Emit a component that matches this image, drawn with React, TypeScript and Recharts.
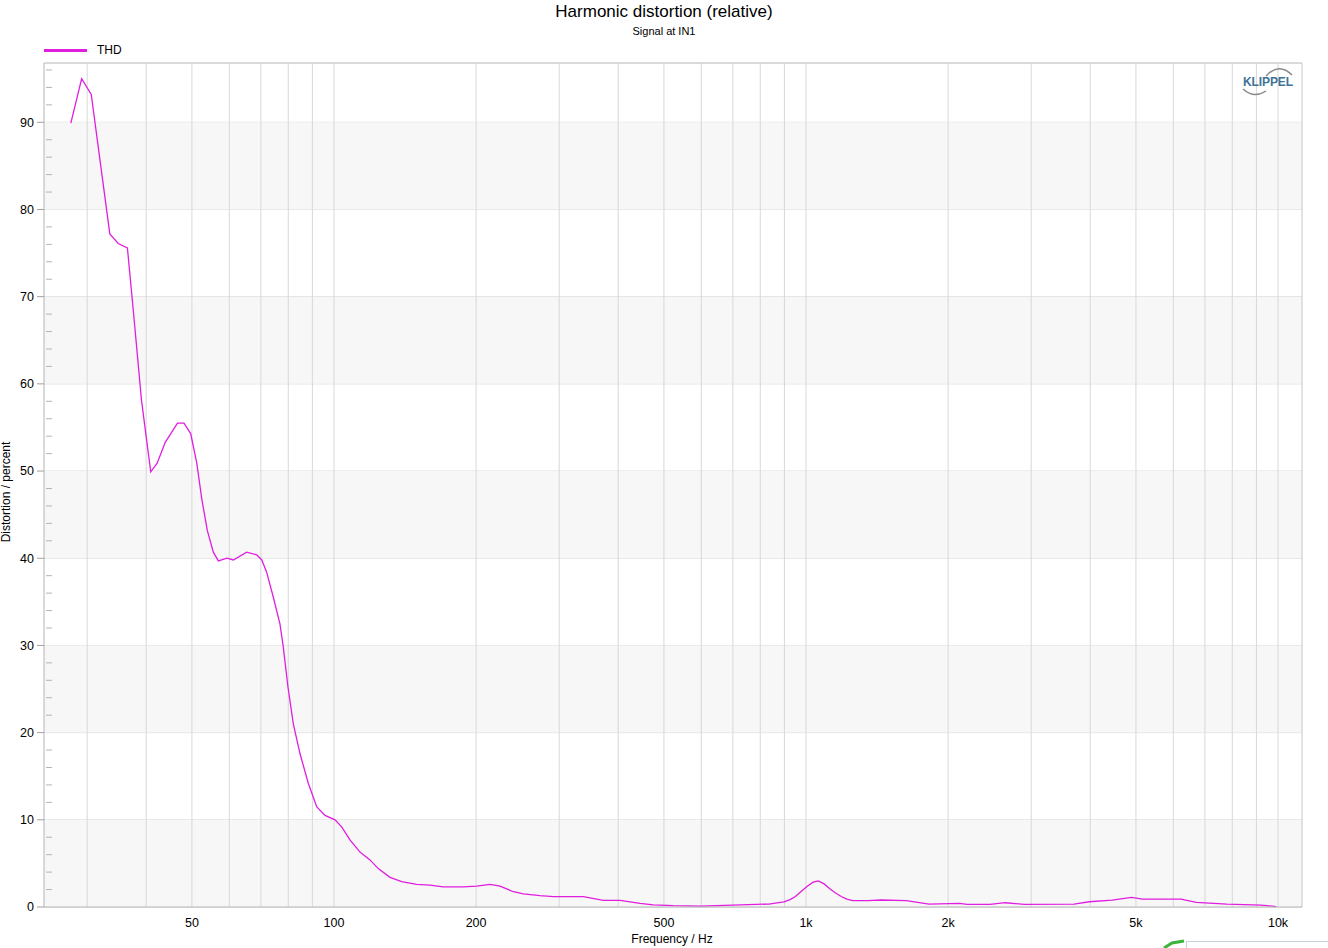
import React from "react";
import {
  LineChart,
  Line,
  XAxis,
  YAxis,
  CartesianGrid,
  ReferenceLine,
  ReferenceArea,
} from "recharts";

// ---- data ----
const freqHz = [
  27.7, 29.2, 30.6, 33.5, 34.9, 36.5, 37.7, 39.1, 40.9, 42.2,
  43.9, 46.6, 48.1, 49.7, 51.2, 52.5, 53.9, 55.5, 56.9, 59.3,
  61.2, 65.3, 68.6, 70.3, 72.0, 74.4, 76.8, 78.0, 79.9, 82.0,
  84.7, 88.2, 91.9, 95.7, 100.5, 103.8, 108.1, 113.5, 119.2, 124.1,
  131.4, 139.1, 149.7, 159.7, 170.4, 187.9, 200.6, 214.1, 224.8, 239.9,
  251.8, 273.2, 291.5, 337.5, 372.1, 403.6, 444.9, 474.9, 523.5, 596.3,
  698.2, 833.7, 898.3, 925, 949.5, 975, 1004.6, 1035, 1062, 1092, 1123, 1155,
  1187.6, 1220, 1256, 1352.6,
  1443.4, 1629.6, 1822.5, 2114, 2195, 2454, 2643, 2901, 3697, 3984,
  4454, 4890, 5168, 5569, 6228, 6709, 7787, 9204, 9918,
];

const thdPercent = [
  89.9, 95.0, 93.2, 77.2, 76.1, 75.6, 67.5, 58.1, 49.9, 50.9,
  53.3, 55.5, 55.5, 54.3, 50.9, 46.7, 43.2, 40.7, 39.7, 40.0,
  39.8, 40.7, 40.4, 39.8, 38.4, 35.5, 32.5, 30.0, 25.2, 21.0,
  17.6, 14.2, 11.5, 10.5, 10.0, 9.2, 7.7, 6.3, 5.4, 4.4,
  3.4, 2.9, 2.6, 2.5, 2.3, 2.3, 2.4, 2.6, 2.4, 1.75,
  1.5, 1.3, 1.2, 1.2, 0.75, 0.75, 0.42, 0.25, 0.15, 0.1,
  0.22, 0.34, 0.6, 0.85, 1.2, 1.75, 2.35, 2.85, 3.0, 2.65, 2.1, 1.6,
  1.2, 0.9, 0.72, 0.72,
  0.8, 0.72, 0.34, 0.42, 0.3, 0.3, 0.49, 0.3, 0.34, 0.6,
  0.8, 1.1, 0.9, 0.9, 0.9, 0.53, 0.34, 0.22, 0.05,
];

const xTicks = [50, 100, 200, 500, 1000, 2000, 5000, 10000];
const xGridFreqs = [
  30, 40, 50, 60, 70, 80, 90,
  100, 200, 300, 400, 500, 600, 700, 800, 900,
  1000, 2000, 3000, 4000, 5000, 6000, 7000, 8000, 9000, 10000,
];
const yTicks = [0, 10, 20, 30, 40, 50, 60, 70, 80, 90];
const yMinorTicks = [
  2, 4, 6, 8, 12, 14, 16, 18, 22, 24, 26, 28, 32, 34, 36, 38, 42, 44, 46, 48,
  52, 54, 56, 58, 62, 64, 66, 68, 72, 74, 76, 78, 82, 84, 86, 88, 92, 94, 96,
];
const shadedBands = [
  [0, 10],
  [20, 30],
  [40, 50],
  [60, 70],
  [80, 90],
];
const xDomain = [24.3, 11240];
const yDomain = [0, 96.8];

const chartData = freqHz.map((f, i) => ({ f, thd: thdPercent[i] }));

const FONT = '"Liberation Sans", Arial, "Helvetica", sans-serif';
const LINE_COLOR = "#e01ee0";

const fmtHz = (v: number) => (v >= 1000 ? `${v / 1000}k` : `${v}`);

const MinorTick = (props: any) => {
  const { x, y } = props;
  return (
    <line x1={x} y1={y} x2={x + 6} y2={y} stroke="#b4b4b4" strokeWidth={1} />
  );
};

export default function App() {
  return (
    <div
      style={{
        position: "absolute",
        left: 0,
        top: 0,
        width: 1328,
        height: 948,
        background: "#ffffff",
        fontFamily: FONT,
        overflow: "hidden",
      }}
    >
      {/* titles */}
      <div
        style={{
          position: "absolute",
          left: 0,
          width: 1328,
          top: 2,
          textAlign: "center",
          fontSize: 17,
          color: "#000",
          lineHeight: "20px",
        }}
      >
        Harmonic distortion (relative)
      </div>
      <div
        style={{
          position: "absolute",
          left: 0,
          width: 1328,
          top: 24,
          textAlign: "center",
          fontSize: 11,
          color: "#000",
          lineHeight: "14px",
        }}
      >
        Signal at IN1
      </div>

      {/* legend */}
      <div
        style={{
          position: "absolute",
          left: 44,
          top: 49,
          width: 43,
          height: 3,
          background: LINE_COLOR,
        }}
      />
      <div
        style={{
          position: "absolute",
          left: 97,
          top: 43,
          fontSize: 12,
          lineHeight: "14px",
          color: "#000",
        }}
      >
        THD
      </div>

      <LineChart
        width={1328}
        height={948}
        data={chartData}
        margin={{ top: 63, right: 26, left: 0, bottom: 11 }}
        style={{ position: "absolute", left: 0, top: 0, fontFamily: FONT }}
      >
        {shadedBands.map(([a, b]) => (
          <ReferenceArea
            key={`band-${a}`}
            y1={a}
            y2={b}
            fill="#f7f7f7"
            fillOpacity={1}
            stroke="none"
          />
        ))}
        <CartesianGrid
          vertical={false}
          horizontal={true}
          stroke="#dadada"
          strokeDasharray=""
        />
        {xGridFreqs.map((f) => (
          <ReferenceLine key={`gx-${f}`} x={f} stroke="#d8d8d8" strokeWidth={1} />
        ))}
        <ReferenceLine y={yDomain[1]} stroke="#c8c8c8" strokeWidth={1} />
        <ReferenceLine x={xDomain[1]} stroke="#c8c8c8" strokeWidth={1} />
        <XAxis
          dataKey="f"
          type="number"
          scale="log"
          domain={xDomain}
          allowDataOverflow
          ticks={xTicks}
          tickFormatter={fmtHz}
          tickLine={false}
          tickMargin={5}
          height={30}
          axisLine={{ stroke: "#b4b4b4" }}
          tick={{ fill: "#000", fontSize: 12.5, fontFamily: FONT }}
          interval={0}
        />
        <YAxis
          yAxisId={0}
          type="number"
          domain={yDomain}
          allowDataOverflow
          ticks={yTicks}
          width={44}
          tickSize={7}
          tickMargin={3}
          tickLine={{ stroke: "#a0a0a0" }}
          axisLine={{ stroke: "#b4b4b4" }}
          tick={{ fill: "#000", fontSize: 12.5, fontFamily: FONT }}
          interval={0}
        />
        <YAxis
          yAxisId="minor"
          type="number"
          domain={yDomain}
          allowDataOverflow
          ticks={yMinorTicks}
          mirror
          tick={<MinorTick />}
          tickSize={0}
          tickLine={false}
          axisLine={false}
          interval={0}
        />
        <Line
          yAxisId={0}
          type="linear"
          dataKey="thd"
          stroke={LINE_COLOR}
          strokeWidth={1.3}
          dot={false}
          isAnimationActive={false}
        />
      </LineChart>

      {/* axis titles */}
      <div
        style={{
          position: "absolute",
          left: 0,
          width: 1344,
          top: 932,
          textAlign: "center",
          fontSize: 12,
          lineHeight: "14px",
          color: "#000",
        }}
      >
        Frequency / Hz
      </div>
      <div
        style={{
          position: "absolute",
          left: 6,
          top: 492,
          transform: "translate(-50%, -50%) rotate(-90deg)",
          fontSize: 12,
          lineHeight: "14px",
          color: "#000",
          whiteSpace: "nowrap",
        }}
      >
        Distortion / percent
      </div>

      {/* KLIPPEL logo */}
      <svg
        width={80}
        height={40}
        viewBox="1230 62 80 40"
        style={{ position: "absolute", left: 1230, top: 62 }}
      >
        <path d="M1266,76 Q1279,62 1292,75" fill="none" stroke="#8a8a8a" strokeWidth={1.5} />
        <path d="M1243,89 Q1254,99 1266,91" fill="none" stroke="#8a8a8a" strokeWidth={1.5} />
        <text
          x={1243}
          y={86}
          fontSize={12}
          fontWeight="bold"
          fill="#3f7396"
          fontFamily={FONT}
          textLength={50}
        >
          KLIPPEL
        </text>
      </svg>

      {/* bottom-right fragment */}
      <div
        style={{
          position: "absolute",
          left: 1186,
          top: 941,
          width: 150,
          height: 20,
          borderTop: "1px solid #c8d2da",
          borderLeft: "1px solid #c8d2da",
        }}
      />
      <svg width={30} height={12} style={{ position: "absolute", left: 1162, top: 938 }}>
        <path d="M2,10 L10,5 L22,3" fill="none" stroke="#3cb43c" strokeWidth={3} />
      </svg>
    </div>
  );
}
